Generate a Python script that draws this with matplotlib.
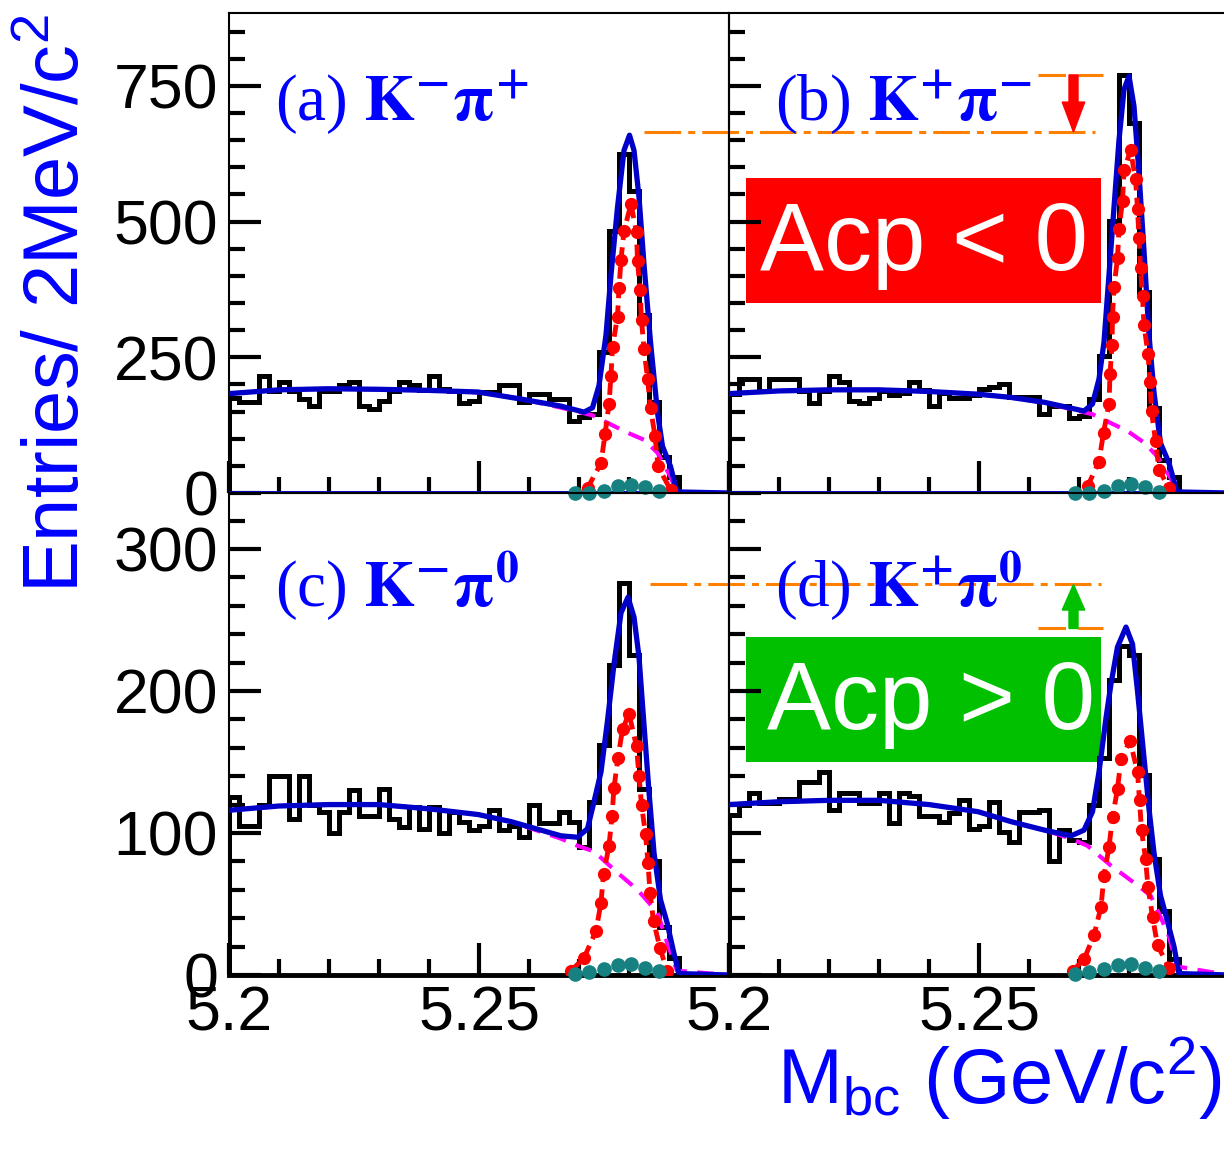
import numpy as np
import matplotlib.pyplot as plt
from matplotlib.patches import Rectangle, FancyArrow
from matplotlib.ticker import MultipleLocator, FixedLocator, FixedFormatter

plt.rcParams['font.family'] = ['Liberation Sans', 'DejaVu Sans']
plt.rcParams['mathtext.fontset'] = 'custom'
plt.rcParams['mathtext.rm'] = 'Liberation Sans'
plt.rcParams['mathtext.it'] = 'Liberation Sans:italic'
plt.rcParams['mathtext.bf'] = 'Liberation Sans:bold'

# --- data: 2 MeV bins from 5.20 to 5.30 GeV ---
edges = np.round(5.2 + 0.002 * np.arange(51), 4)

hist_a = [175, 168, 168, 216, 188, 205, 188, 173, 160, 188, 188, 198, 205, 160, 155, 170, 188, 205, 198, 190,
          215, 192, 188, 165, 170, 186, 186, 198, 198, 167, 182, 182, 173, 173, 133, 140, 145, 260, 483, 625,
          557, 328, 167, 67, 30, 0, 0, 0, 0, 0]
hist_b = [182, 210, 210, 188, 210, 210, 210, 188, 165, 188, 215, 205, 170, 165, 175, 188, 180, 185, 205, 190,
          160, 185, 175, 175, 180, 191, 195, 200, 176, 176, 176, 145, 160, 160, 139, 142, 173, 253, 501, 770,
          681, 371, 157, 61, 30, 0, 0, 0, 0, 0]
hist_c = [125, 105, 105, 120, 140, 140, 110, 140, 120, 115, 100, 115, 130, 112, 112, 131, 110, 104, 118, 103,
          118, 100, 115, 108, 102, 105, 116, 102, 105, 97, 120, 107, 107, 115, 108, 90, 122, 162, 218, 276,
          225, 131, 80, 34, 12, 0, 0, 0, 0, 0]
hist_d = [113, 120, 128, 121, 121, 124, 124, 136, 136, 143, 116, 128, 128, 121, 121, 128, 107, 128, 126, 112,
          112, 108, 114, 123, 103, 105, 122, 101, 94, 115, 115, 116, 80, 102, 95, 94, 120, 153, 208, 232,
          225, 141, 82, 45, 11, 0, 0, 0, 0, 0]

# total fit
fit_a_x = [5.200, 5.210, 5.220, 5.230, 5.240, 5.2498, 5.2584, 5.2664, 5.2710, 5.2727, 5.2740, 5.2754, 5.2764,
           5.2777, 5.2790, 5.2801, 5.2810, 5.2820, 5.2830, 5.2843, 5.2857, 5.2867, 5.2883, 5.2896, 5.300]
fit_a_y = [183, 190, 192, 191, 189, 186, 173, 160, 149, 157, 198, 291, 402, 526, 631, 659, 631, 545, 421, 278,
           148, 86, 49, 2, 0]
fit_b_x = [5.200, 5.210, 5.220, 5.230, 5.240, 5.2498, 5.2564, 5.2631, 5.2710, 5.2727, 5.2740, 5.2750, 5.2760,
           5.2770, 5.2780, 5.2790, 5.2800, 5.2810, 5.2820, 5.2830, 5.2840, 5.2850, 5.2863, 5.2880, 5.2896, 5.300]
fit_b_y = [183, 188, 190, 190, 187, 182, 176, 167, 151, 164, 210, 278, 402, 526, 650, 743, 768, 712, 588, 446,
           291, 185, 92, 55, 2, 0]
fit_c_x = [5.200, 5.210, 5.220, 5.230, 5.240, 5.2498, 5.2564, 5.2664, 5.2697, 5.2717, 5.2730, 5.2744, 5.2757,
           5.2770, 5.2784, 5.2798, 5.2810, 5.2820, 5.2830, 5.2840, 5.2850, 5.2863, 5.2876, 5.2890, 5.2900, 5.300]
fit_c_y = [116, 119, 120, 120, 117, 113, 108, 98, 97, 103, 122, 143, 179, 219, 255, 266, 252, 224, 176, 129,
           86, 53, 37, 15, 1, 0]
fit_d_x = [5.200, 5.210, 5.220, 5.230, 5.240, 5.2498, 5.2564, 5.2631, 5.2684, 5.2710, 5.2727, 5.2740, 5.2754,
           5.2764, 5.2777, 5.2794, 5.2807, 5.2817, 5.2830, 5.2840, 5.2850, 5.2863, 5.2876, 5.2890, 5.2900, 5.300]
fit_d_y = [120, 122, 123, 123, 120, 115, 108, 102, 98, 102, 115, 143, 181, 205, 231, 245, 233, 200, 153, 117,
           86, 56, 39, 20, 1, 0]

# continuum background
bkg_a_x = [5.200, 5.210, 5.220, 5.230, 5.240, 5.250, 5.258, 5.266, 5.2727, 5.2797, 5.2830, 5.2857, 5.2883, 5.2896, 5.300]
bkg_a_y = [183, 190, 192, 191, 189, 185, 174, 158, 143, 111, 98, 74, 30, 0, 0]
bkg_b_x = [5.200, 5.210, 5.220, 5.230, 5.240, 5.2498, 5.2564, 5.2631, 5.2727, 5.2797, 5.2830, 5.2857, 5.2883, 5.2896, 5.300]
bkg_b_y = [183, 188, 190, 190, 187, 182, 176, 166, 145, 114, 93, 67, 28, 0, 0]
bkg_c_x = [5.200, 5.210, 5.220, 5.230, 5.240, 5.2498, 5.2564, 5.2664, 5.2697, 5.2730, 5.2777, 5.2817, 5.2857, 5.2876, 5.2896, 5.300]
bkg_c_y = [116, 119, 120, 120, 117, 113, 108, 96, 91, 87, 72, 60, 44, 23, 3, 0]
bkg_d_x = [5.200, 5.210, 5.220, 5.230, 5.240, 5.2498, 5.2564, 5.2631, 5.2684, 5.2717, 5.2764, 5.2810, 5.2843, 5.2863, 5.2880, 5.2896, 5.300]
bkg_d_y = [120, 122, 123, 123, 120, 115, 108, 102, 96, 91, 77, 65, 56, 41, 27, 6, 0]

# signal
sig_a_x = [5.2717, 5.2744, 5.2752, 5.2760, 5.2764, 5.2767, 5.2777, 5.2780, 5.2784, 5.2790, 5.2804, 5.2815,
           5.2817, 5.2822, 5.2825, 5.2830, 5.2837, 5.2843, 5.2852, 5.2858, 5.2883]
sig_a_y = [9, 55, 108, 164, 216, 269, 325, 377, 430, 483, 532, 480, 427, 374, 318, 266, 210, 157, 105, 49, 6]
sig_b_x = [5.2717, 5.2740, 5.2749, 5.2760, 5.2762, 5.2766, 5.2767, 5.2770, 5.2777, 5.2780, 5.2787, 5.2790,
           5.2803, 5.2813, 5.2817, 5.2820, 5.2823, 5.2827, 5.2830, 5.2838, 5.2842, 5.2845, 5.2853, 5.2860, 5.2880]
sig_b_y = [12, 58, 111, 164, 219, 272, 325, 379, 433, 486, 538, 594, 631, 579, 523, 470, 414, 362, 309, 256,
           204, 151, 95, 43, 9]
sig_c_x = [5.2684, 5.2710, 5.2734, 5.2744, 5.2749, 5.2760, 5.2766, 5.2770, 5.2778, 5.2787, 5.2800, 5.2815,
           5.2820, 5.2825, 5.2833, 5.2838, 5.2842, 5.2849, 5.2862, 5.2876]
sig_c_y = [3, 12, 31, 51, 71, 91, 112, 132, 153, 173, 184, 161, 140, 120, 99, 79, 58, 38, 19, 3]
sig_d_x = [5.2687, 5.2710, 5.2730, 5.2744, 5.2750, 5.2760, 5.2767, 5.2777, 5.2784, 5.2802, 5.2817, 5.2821,
           5.2825, 5.2833, 5.2838, 5.2847, 5.2857, 5.2880]
sig_d_y = [3, 11, 28, 48, 70, 90, 111, 131, 152, 165, 143, 123, 102, 82, 62, 41, 21, 5]

# peaking background
peak_x = [5.2691, 5.2720, 5.2749, 5.2777, 5.2803, 5.2832, 5.2860]
peak_a = [0, 0, 3, 12, 15, 11, 3]
peak_b = [0, 0, 3, 12, 16, 11, 2]
peak_c = [1, 2, 4, 7, 8, 5, 3]
peak_d = [1, 2, 4, 7, 8, 5, 3]

labels = [r'(a) $\mathbf{K^{-}\pi^{+}}$', r'(b) $\mathbf{K^{+}\pi^{-}}$',
          r'(c) $\mathbf{K^{-}\pi^{0}}$', r'(d) $\mathbf{K^{+}\pi^{0}}$']

# peak height markers
level_a, level_b = 665, 770
level_c, level_d = 275, 244

# --- figure ---
W, H = 1224, 1158
fig = plt.figure(figsize=(W / 100, H / 100), dpi=100)

def make_axes(x0, y0, x1, y1):
    ax = fig.add_axes([x0 / W, 1 - y1 / H, (x1 - x0) / W, (y1 - y0) / H])
    ax.set_facecolor('none')
    return ax

ax_a = make_axes(229, 12.5, 729, 493)
ax_b = make_axes(729, 12.5, 1229, 493)
ax_c = make_axes(229, 493, 729, 975)
ax_d = make_axes(729, 493, 1229, 975)

blue = '#0000c8'
panels = [
    (ax_a, hist_a, fit_a_x, fit_a_y, bkg_a_x, bkg_a_y, sig_a_x, sig_a_y, peak_a, labels[0], 885, 250, 50, 684),
    (ax_b, hist_b, fit_b_x, fit_b_y, bkg_b_x, bkg_b_y, sig_b_x, sig_b_y, peak_b, labels[1], 885, 250, 50, 684),
    (ax_c, hist_c, fit_c_x, fit_c_y, bkg_c_x, bkg_c_y, sig_c_x, sig_c_y, peak_c, labels[2], 339.4, 100, 20, 259),
    (ax_d, hist_d, fit_d_x, fit_d_y, bkg_d_x, bkg_d_y, sig_d_x, sig_d_y, peak_d, labels[3], 339.4, 100, 20, 259),
]

for i, (ax, h, fx, fy, bx, by, sx, sy, pk, lab, ytop, ymaj, ymin, laby) in enumerate(panels):
    ax.set_xlim(5.2, 5.3)
    ax.set_ylim(0, ytop)
    ax.stairs(h, edges, color='black', lw=3.6, baseline=0, zorder=2)
    ax.plot(bx, by, color='#ff00ff', lw=3, ls=(0, (4, 2.5)), zorder=3)
    ax.plot(fx, fy, color=blue, lw=3.8, zorder=4)
    ax.plot(sx, sy, color='#ff0000', lw=3.5, ls=(0, (2.5, 1.5)), marker='o', ms=8.5, zorder=5)
    ax.plot(peak_x, pk, ls='none', marker='o', ms=9.5, color='#178080', clip_on=False, zorder=6)
    if i < 2:
        ax.axhline(0, color=blue, lw=2.8, zorder=4)
    ax.text(5.2092, laby, lab, color='#0000ff', fontsize=47, va='baseline',
            family='Liberation Serif', math_fontfamily='stix')

    ax.yaxis.set_major_locator(MultipleLocator(ymaj))
    ax.yaxis.set_minor_locator(MultipleLocator(ymin))
    ax.xaxis.set_major_locator(FixedLocator([5.2, 5.25, 5.3]))
    ax.xaxis.set_minor_locator(MultipleLocator(0.01))
    ax.xaxis.set_major_formatter(FixedFormatter(['5.2', '5.25', '']))
    ax.tick_params(which='major', direction='in', length=23, width=3, labelsize=45, pad=8)
    ax.tick_params(which='minor', direction='in', length=11.5, width=3)
    ax.tick_params(axis='x', which='major', pad=7)
    if i < 2:
        ax.tick_params(axis='x', labelbottom=False)
    if i % 2 == 1:
        ax.tick_params(axis='y', labelleft=False)
    for s in ax.spines.values():
        s.set_linewidth(1.5)
    if i >= 2:
        ax.spines['bottom'].set_linewidth(3.5)

# Acp boxes
ax_b.add_patch(Rectangle((5.2034, 350), 0.0709, 230, facecolor='#ff0000', edgecolor='none', zorder=1))
ax_b.text(5.2062, 411, 'Acp < 0', color='white', fontsize=69, va='baseline', zorder=2)
ax_d.add_patch(Rectangle((5.2034, 150), 0.0709, 88, facecolor='#00c000', edgecolor='none', zorder=1))
ax_d.text(5.2076, 173, 'Acp > 0', color='white', fontsize=69, va='baseline', zorder=2)

# peak comparison lines
orange = '#ff8000'
dashdot = (0, (12, 2.3, 2.3, 2.3))
ax_a.plot([5.2829, 5.3731], [level_a, level_a], color=orange, lw=2.2, ls=dashdot, clip_on=False, zorder=7)
ax_b.plot([5.2618, 5.2747], [level_b, level_b], color=orange, lw=2.2, ls=(0, (9, 4)), zorder=7)
ax_c.plot([5.2841, 5.3743], [level_c, level_c], color=orange, lw=2.2, ls=dashdot, clip_on=False, zorder=7)
ax_d.plot([5.2618, 5.2747], [level_d, level_d], color=orange, lw=2.2, ls=(0, (9, 4)), zorder=7)

ax_b.add_patch(FancyArrow(5.2689, level_b, 0, level_a - level_b, width=0.0018, head_width=0.0045,
                          head_length=55, length_includes_head=True, color='#ff0000', zorder=8))
ax_d.add_patch(FancyArrow(5.2689, level_d, 0, level_c - level_d, width=0.0018, head_width=0.0045,
                          head_length=18, length_includes_head=True, color='#00c000', zorder=8))

fig.text(59 / W, 1 - 14 / H, 'Entries/ 2MeV/c$^{2}$', rotation=90, ha='center', va='top',
         fontsize=56, color='#0000ff')
fig.text(1222 / W, 1 - 1104 / H, r'M$_{\rm bc}$ (GeV/c$^{2}$)', ha='right', va='baseline',
         fontsize=56, color='#0000ff')

fig.savefig('out.png', dpi=100, facecolor='white')
